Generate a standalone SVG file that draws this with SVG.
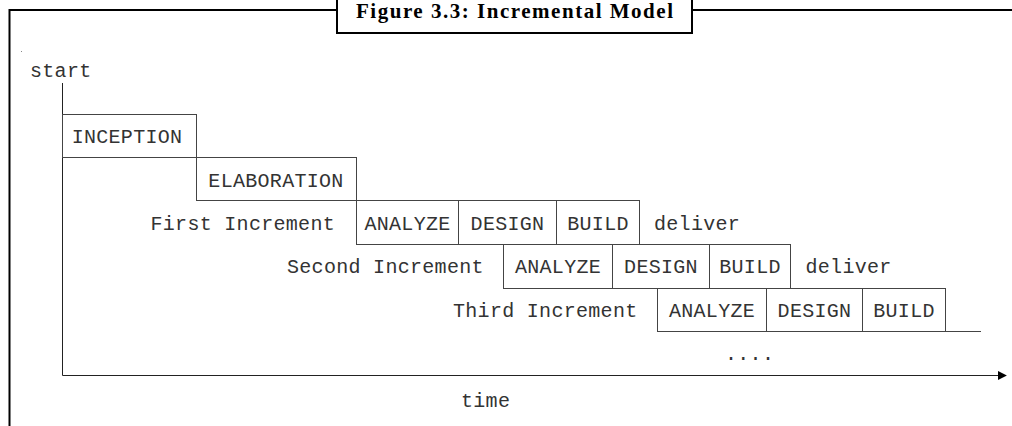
<svg xmlns="http://www.w3.org/2000/svg" width="1012" height="426" viewBox="0 0 1012 426">
<style>
.t{font-family:"Liberation Mono","DejaVu Sans Mono",monospace;font-size:20px;letter-spacing:0.3px;fill:#333}
.c{text-anchor:middle}
.box{fill:none;stroke:#444;stroke-width:1}
.frame{fill:none;stroke:#000;stroke-width:2}
.axis{fill:none;stroke:#222;stroke-width:1}
.title{font-family:"Liberation Serif","Times New Roman",serif;font-weight:bold;font-size:21px;fill:#000}
</style>
<defs>
<marker id="arr" viewBox="0 0 10 10" refX="9" refY="5" markerWidth="9" markerHeight="12" markerUnits="userSpaceOnUse" orient="auto">
<path d="M0,0 L10,5 L0,10 z" fill="#000"/>
</marker>
</defs>
<rect width="1012" height="426" fill="#fff"/>
<g id="frame">
<path class="frame" d="M9.5,426 V10 H337 M692,10 H1012"/>
<rect class="frame" x="337" y="-4" width="355" height="37"/>
<text class="title" x="514.5" y="17.5" text-anchor="middle" textLength="317" lengthAdjust="spacing">Figure 3.3: Incremental Model</text>
<rect x="21" y="51" width="1" height="1" fill="#888"/>
</g>
<g id="connectors">
<path class="axis" d="M62.5,83 V375.5"/>
<path class="axis" d="M62.5,375.5 H1006" stroke-width="1.5" marker-end="url(#arr)"/>
<path class="box" d="M945.5,331.5 H981"/>
</g>
<g id="start"><text class="t" x="30" y="77">start</text></g>
<g id="inception">
<rect class="box" x="62.5" y="114.5" width="134" height="43"/>
<text class="t c" x="127" y="143">INCEPTION</text>
</g>
<g id="elaboration">
<rect class="box" x="196.5" y="157.5" width="160" height="43"/>
<text class="t c" x="276" y="186.5">ELABORATION</text>
</g>
<g id="first-increment">
<text class="t" x="150.5" y="229.5">First Increment</text>
<rect class="box" x="356.5" y="200.5" width="102" height="44"/>
<rect class="box" x="458.5" y="200.5" width="98" height="44"/>
<rect class="box" x="556.5" y="200.5" width="83" height="44"/>
<text class="t c" x="407.5" y="229.5">ANALYZE</text>
<text class="t c" x="507.5" y="229.5">DESIGN</text>
<text class="t c" x="598" y="229.5">BUILD</text>
<text class="t" x="654" y="229.5">deliver</text>
</g>
<g id="second-increment">
<text class="t" x="287" y="273">Second Increment</text>
<rect class="box" x="503.5" y="244.5" width="109" height="44"/>
<rect class="box" x="612.5" y="244.5" width="97" height="44"/>
<rect class="box" x="709.5" y="244.5" width="81" height="44"/>
<text class="t c" x="558" y="273">ANALYZE</text>
<text class="t c" x="661" y="273">DESIGN</text>
<text class="t c" x="750" y="273">BUILD</text>
<text class="t" x="805.5" y="273">deliver</text>
</g>
<g id="third-increment">
<text class="t" x="453" y="317">Third Increment</text>
<rect class="box" x="657.5" y="288.5" width="109" height="43"/>
<rect class="box" x="766.5" y="288.5" width="96" height="43"/>
<rect class="box" x="862.5" y="288.5" width="83" height="43"/>
<text class="t c" x="712" y="317">ANALYZE</text>
<text class="t c" x="814.5" y="317">DESIGN</text>
<text class="t c" x="904" y="317">BUILD</text>
</g>
<g id="more"><text class="t" x="725" y="360">....</text></g>
<g id="time"><text class="t" x="461" y="407">time</text></g>
</svg>
